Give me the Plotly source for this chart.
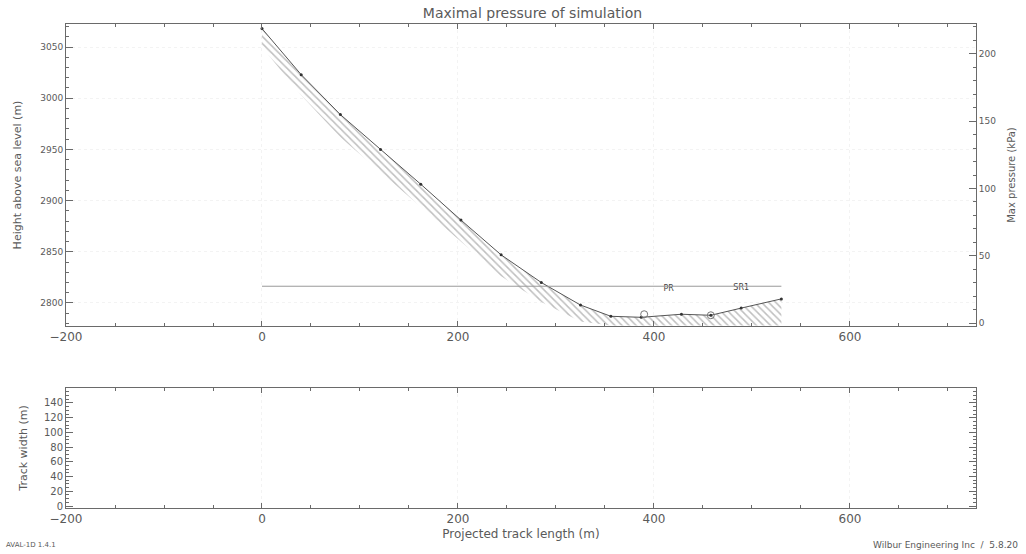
import plotly.graph_objects as go

# ---- data ----
track_x = [0, 40, 80, 121, 162, 203, 244, 285, 325, 356, 387, 428, 458, 489, 530]
terrain_z = [3068, 3023, 2984, 2950, 2916, 2881, 2847, 2820, 2798, 2787, 2786, 2789, 2788, 2795, 2804]
flow_bottom_z = [3050, 3003, 2962, 2928, 2894, 2860, 2826, 2801, 2782, 2778, 2778, 2778, 2778, 2778, 2778]

pressure_x = [0, 530]
pressure_kpa = [27.5, 27.5]

point_x = [390, 458]
point_z = [2789, 2788]
point_labels = ["PR", "SR1"]
label_x = [415, 489]
label_z = [2814, 2815]

width_x = []
width_m = []

x_ticks = [-200, 0, 200, 400, 600]
width_ticks = [0, 20, 40, 60, 80, 100, 120, 140]

TXT = "#5a5a5a"
AX = "#6a6a6a"
FONT = "DejaVu Sans"

fig = go.Figure()

# hatched flow band (closed polygon: terrain forward, bottom reversed)
fig.add_trace(go.Scatter(
    x=track_x + track_x[::-1],
    y=terrain_z + flow_bottom_z[::-1],
    fill="toself", mode="lines", line=dict(width=0, color="rgba(0,0,0,0)"),
    fillcolor="rgba(0,0,0,0)",
    fillpattern=dict(shape="\\", fgcolor="#7f7f7f", bgcolor="white", size=5, solidity=0.3),
    xaxis="x", yaxis="y", showlegend=False, hoverinfo="skip"))

# terrain line
fig.add_trace(go.Scatter(
    x=track_x, y=terrain_z, mode="lines+markers",
    line=dict(color="#555555", width=1), marker=dict(size=3, color="#333333"),
    xaxis="x", yaxis="y", showlegend=False))

# points
fig.add_trace(go.Scatter(
    x=point_x, y=point_z, mode="markers",
    marker=dict(size=7, symbol="circle-open", color="#777777", line=dict(width=1)),
    xaxis="x", yaxis="y", showlegend=False))

fig.add_trace(go.Scatter(
    x=label_x, y=label_z, mode="text", text=point_labels,
    textfont=dict(family=FONT, size=8, color="#444444"),
    xaxis="x", yaxis="y", showlegend=False))

# max pressure line (right axis)
fig.add_trace(go.Scatter(
    x=pressure_x, y=pressure_kpa, mode="lines",
    line=dict(color="#9a9a9a", width=1),
    xaxis="x", yaxis="y3", showlegend=False))

# track width (empty)
fig.add_trace(go.Scatter(x=width_x, y=width_m, mode="lines",
                         line=dict(color="#555555", width=1),
                         xaxis="x2", yaxis="y2", showlegend=False))

common_x = dict(
    range=[-200, 728.6], tickmode="array", tickvals=x_ticks,
    ticks="inside", ticklen=5, tickcolor=AX, mirror="ticks",
    showline=True, linecolor=AX, linewidth=1, zeroline=False,
    showgrid=True, gridcolor="#f3f3f3", griddash="dot",
    minor=dict(dtick=50, ticks="inside", ticklen=3, tickcolor=AX, showgrid=False),
    tickfont=dict(family=FONT, size=12, color=TXT),
    automargin=False,
)

fig.update_layout(
    width=1026, height=554,
    paper_bgcolor="white", plot_bgcolor="white",
    margin=dict(l=66, r=50, t=24, b=46, autoexpand=False),
    title=dict(text="Maximal pressure of simulation", x=0.519, xanchor="center",
               y=0.977, yanchor="middle",
               font=dict(family=FONT, size=14, color=TXT)),
    xaxis=dict(domain=[0, 1], anchor="y", **common_x),
    yaxis=dict(domain=[0.376, 1.0], range=[2777.5, 3072.5], anchor="x",
               tickmode="linear", tick0=2800, dtick=50,
               ticks="inside", ticklen=7, tickcolor=AX,
               showline=True, linecolor=AX, linewidth=1, zeroline=False,
               showgrid=True, gridcolor="#f3f3f3", griddash="dot",
               minor=dict(dtick=10, ticks="inside", ticklen=3, tickcolor=AX, showgrid=False),
               tickfont=dict(family=FONT, size=9, color=TXT), automargin=False,
               title=dict(text="Height above sea level (m)", standoff=16,
                          font=dict(family=FONT, size=11, color=TXT))),
    yaxis3=dict(overlaying="y", side="right", anchor="x", range=[-2, 222],
                tickmode="linear", tick0=0, dtick=50,
                ticks="inside", ticklen=7, tickcolor=AX,
                showline=True, linecolor=AX, linewidth=1, zeroline=False,
                showgrid=False, automargin=False,
                minor=dict(dtick=10, ticks="inside", ticklen=3, tickcolor=AX),
                tickfont=dict(family=FONT, size=9, color=TXT),
                title=dict(text="Max pressure (kPa)", standoff=12,
                           font=dict(family=FONT, size=10, color=TXT))),
    xaxis2=dict(domain=[0, 1], anchor="y2",
                title=dict(text="Projected track length (m)", standoff=4,
                           font=dict(family=FONT, size=12, color=TXT)),
                **common_x),
    yaxis2=dict(domain=[0, 0.248], range=[-2.7, 160.4], anchor="x2",
                tickmode="array", tickvals=width_ticks,
                ticks="inside", ticklen=7, tickcolor=AX, mirror="ticks",
                showline=True, linecolor=AX, linewidth=1, zeroline=False,
                showgrid=False, automargin=False,
                minor=dict(dtick=5, ticks="inside", ticklen=3, tickcolor=AX),
                tickfont=dict(family=FONT, size=10, color=TXT),
                title=dict(text="Track width (m)", standoff=14,
                           font=dict(family=FONT, size=11, color=TXT))),
    annotations=[
        dict(text="AVAL-1D 1.4.1", xref="paper", yref="paper", x=-0.068, y=-0.077,
             xanchor="left", yanchor="middle", showarrow=False,
             font=dict(family=FONT, size=7, color=TXT)),
        dict(text="Wilbur Engineering Inc  /  5.8.20", xref="paper", yref="paper",
             x=1.048, y=-0.077, xanchor="right", yanchor="middle", showarrow=False,
             font=dict(family=FONT, size=9, color=TXT)),
    ],
)

fig.write_html("out.html", config={"displayModeBar": False},
               post_script="document.body.style.margin='0px';")
